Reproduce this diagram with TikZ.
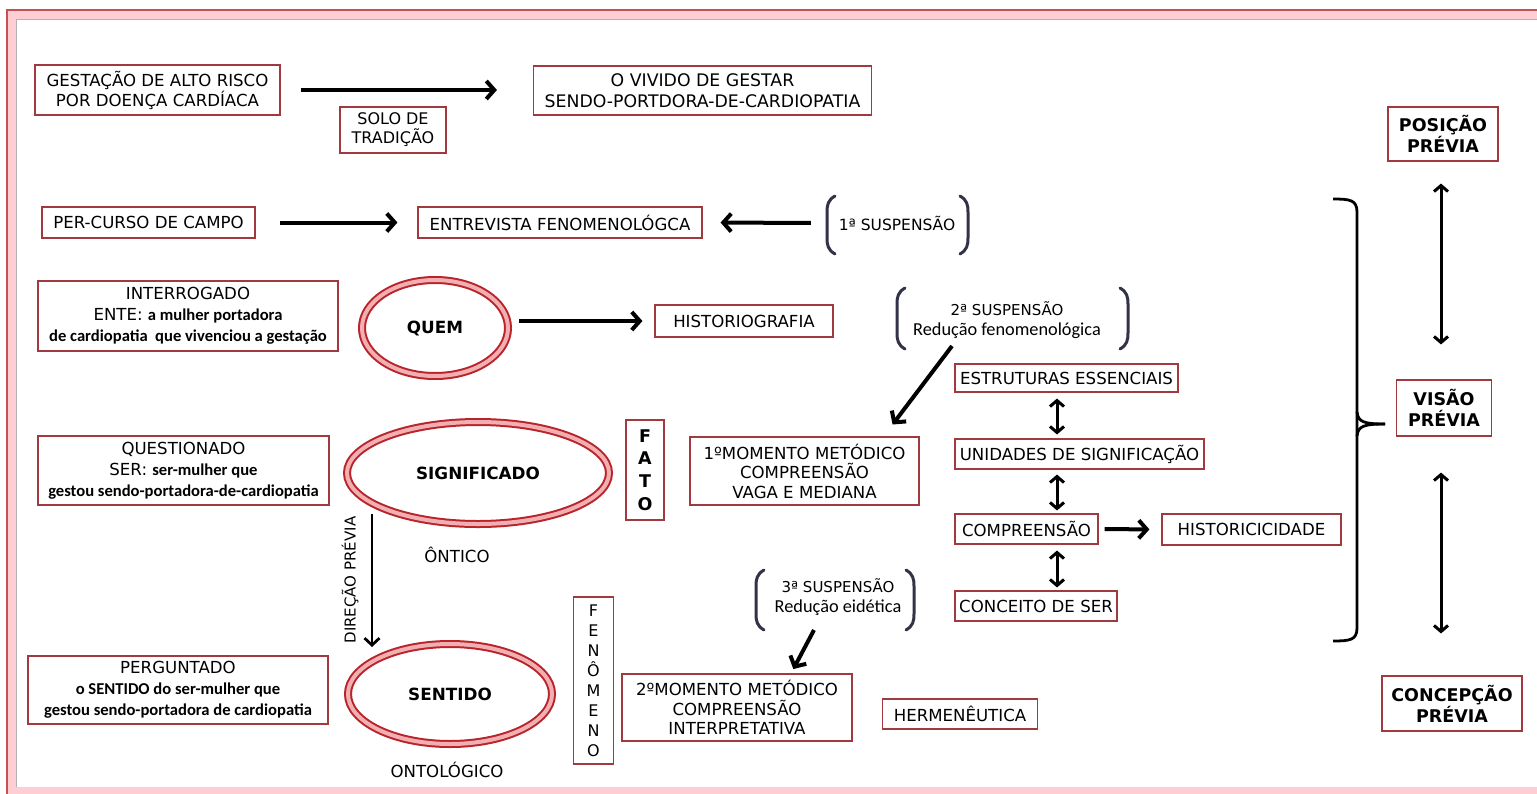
\documentclass[tikz,border=0pt]{standalone}
\usepackage{fontspec}
\setmainfont{DejaVu Sans}
\newfontfamily\calib{Carlito}
\usetikzlibrary{arrows.meta,shapes.geometric,calc}
\definecolor{boxred}{RGB}{160,58,62}
\definecolor{ringdark}{RGB}{185,35,42}
\definecolor{ringpink}{RGB}{242,175,178}
\definecolor{brkcol}{RGB}{50,50,72}
\definecolor{framepink}{RGB}{255,205,212}
\definecolor{framered}{RGB}{200,80,80}
\tikzset{
  box/.style={draw=boxred, line width=1.1pt, fill=white, inner sep=2pt, align=center, font=\fontsize{16.6}{20}\selectfont},
  ring/.style={ellipse, draw=ringdark, line width=2pt, double=ringpink, double distance=4pt, font=\bfseries\fontsize{16.8}{18}\selectfont},
  arr/.style={line width=4pt, -{Straight Barb[length=8pt,width=18pt]}},
  darr/.style={line width=3pt, {Straight Barb[length=6pt,width=14pt]}-{Straight Barb[length=6pt,width=14pt]}},
  brk/.style={draw=brkcol, line width=3pt, line cap=round},
  plain/.style={font=\fontsize{16.6}{20}\selectfont, align=center},
  low/.style={},
}
\newcommand{\lowb}{\calib\bfseries\fontsize{16.6}{21}\selectfont}
\begin{document}
\begin{tikzpicture}[x=1pt,y=-1pt]
\useasboundingbox (0,0) rectangle (1537,793);
% frame
\fill[framepink] (7,10) rectangle (1560,800);
\fill[white] (16,19) rectangle (1560,787);
\draw[framered, line width=1.2pt] (7,800) -- (7,10) -- (1560,10);
\draw[gray!60, line width=0.8pt] (16,787) -- (16,19) -- (1560,19);

% row 1
\node[box, minimum width=245, minimum height=50] (gest) at (157.5,90) {GESTAÇÃO DE ALTO RISCO\\POR DOENÇA CARDÍACA};
\node[box, minimum width=106, minimum height=46, font=\fontsize{16}{19}\selectfont] (solo) at (393,130) {SOLO DE\\TRADIÇÃO};
\node[box, minimum width=338, minimum height=49, font=\fontsize{17.3}{20.5}\selectfont] (vivido) at (702.5,90.5) {O VIVIDO DE GESTAR\\SENDO-PORTDORA-DE-CARDIOPATIA};
\draw[arr, shorten <=20pt, shorten >=36pt] (gest.east) -- (vivido.west |- gest.east);

% row 2
\node[box, minimum width=213, minimum height=31] (percurso) at (148.5,222.5) {PER-CURSO DE CAMPO};
\node[box, minimum width=284, minimum height=31] (entrevista) at (560,222.5) {ENTREVISTA FENOMENOLÓGCA};
\node[plain, font=\fontsize{15.5}{18}\selectfont, minimum width=140] (s1) at (897,223) {1ª SUSPENSÃO};
\draw[arr, shorten <=24pt, shorten >=20pt] (percurso.east) -- (entrevista.west);
\draw[arr, shorten <=16pt, shorten >=18pt] (s1.west) -- (entrevista.east);
\draw[brk] (835,196) .. controls (828,200) and (827,205) .. (827,212) -- (827,238) .. controls (827,245) and (828,250) .. (835,254);
\draw[brk] (960,196) .. controls (967,200) and (968,205) .. (968,212) -- (968,238) .. controls (968,245) and (967,250) .. (960,254);

% row 3
\node[box, minimum width=300, minimum height=70, font=\fontsize{16.6}{21}\selectfont] (interrogado) at (188,316)
  {INTERROGADO\\ENTE: {\lowb a mulher portadora}\\{\lowb de cardiopatia\ \ que vivenciou a gestação}};
\node[ring, minimum width=146, minimum height=96] (quem) at (435,328) {QUEM};
\node[box, minimum width=178, minimum height=32] (historio) at (744,321) {HISTORIOGRAFIA};
\draw[arr, shorten <=10pt, shorten >=12pt] (quem.east |- historio.west) -- (historio.west);
\node[plain, minimum width=226] (s2) at (1007,320) {{\fontsize{15}{18}\selectfont 2ª SUSPENSÃO}\\{\calib\fontsize{18.3}{19}\selectfont Redução fenomenológica}};
\draw[brk] (905,288) .. controls (898,292) and (897,297) .. (897,304) -- (897,333) .. controls (897,340) and (898,345) .. (905,349);
\draw[brk] (1120,288) .. controls (1127,292) and (1128,297) .. (1128,304) -- (1128,333) .. controls (1128,340) and (1127,345) .. (1120,349);

% right column of middle
\node[box, minimum width=223, minimum height=28] (estr) at (1066.5,378) {ESTRUTURAS ESSENCIAIS};
\node[box, minimum width=249, minimum height=30] (unid) at (1079.5,454) {UNIDADES DE SIGNIFICAÇÃO};
\node[box, minimum width=143, minimum height=30] (comp) at (1026.5,529) {COMPREENSÃO};
\node[box, minimum width=179, minimum height=31] (histc) at (1251.5,529.5) {HISTORICICIDADE};
\node[box, minimum width=162, minimum height=30] (conc) at (1036,606) {CONCEITO DE SER};
\draw[darr, shorten <=6pt, shorten >=4pt] ($(estr.south)+(-9.5,0)$) -- ($(unid.north)+(-22.5,0)$);
\draw[darr, shorten <=5pt, shorten >=3pt] ($(unid.south)+(-22.5,0)$) -- ($(comp.north)+(30.5,0)$);
\draw[darr, shorten <=6pt, shorten >=3pt] ($(comp.south)+(30.5,0)$) -- ($(conc.north)+(21,0)$);
\draw[arr, shorten <=6pt, shorten >=12pt] (comp.east) -- (histc.west);

% row 4
\node[box, minimum width=291, minimum height=69, font=\fontsize{16.6}{21}\selectfont] (quest) at (183.5,470.5)
  {QUESTIONADO\\SER: {\lowb ser-mulher que}\\{\lowb gestou sendo-portadora-de-cardiopatia}};
\node[ring, minimum width=262, minimum height=102] (sig) at (478,473) {SIGNIFICADO};
\node[box, minimum width=38, minimum height=100, font=\bfseries\fontsize{17.5}{22.7}\selectfont] (fato) at (645,470) {F\\A\\T\\O};
\node[box, minimum width=229, minimum height=68, font=\fontsize{16.6}{19.5}\selectfont] (m1) at (804.5,471) {1ºMOMENTO METÓDICO\\COMPREENSÃO\\VAGA E MEDIANA};
\coordinate (s2a) at (952,346);
\draw[arr, shorten >=15pt] (s2a) -- ($(m1.north)+(79,0)$);
\node[plain] (ontico) at (457,555) {ÔNTICO};

% direcao
\coordinate (d1) at (372,514);
\coordinate (d2) at (372,647);
\draw[line width=2.8pt, -{Straight Barb[length=7pt,width=15pt]}] (d1) -- (d2);
\node[plain, rotate=90, font=\fontsize{15}{18}\selectfont] (direcao) at (350,580) {DIREÇÃO PRÉVIA};

% row 5
\node[plain, minimum width=150] (s3) at (838,597) {{\fontsize{15}{18}\selectfont 3ª SUSPENSÃO}\\{\calib\fontsize{18.3}{19}\selectfont Redução eidética}};
\draw[brk] (764,570) .. controls (757,574) and (756,579) .. (756,586) -- (756,614) .. controls (756,621) and (757,626) .. (764,630);
\draw[brk] (906,570) .. controls (913,574) and (914,579) .. (914,586) -- (914,614) .. controls (914,621) and (913,626) .. (906,630);
\node[box, minimum width=40, minimum height=167, font=\fontsize{16}{20}\selectfont] (fen) at (593.5,680.5) {F\\E\\N\\Ô\\M\\E\\N\\O};
\node[box, minimum width=300, minimum height=68, font=\fontsize{16.6}{21}\selectfont] (perg) at (178,690)
  {PERGUNTADO\\{\lowb o SENTIDO do ser-mulher que}\\{\lowb gestou sendo-portadora de cardiopatia}};
\node[ring, minimum width=204, minimum height=100] (sent) at (450,694) {SENTIDO};
\node[plain] (onto) at (447,770) {ONTOLÓGICO};
\node[box, minimum width=230, minimum height=67, font=\fontsize{16.6}{19.5}\selectfont] (m2) at (737,707.5) {2ºMOMENTO METÓDICO\\COMPREENSÃO\\INTERPRETATIVA};
\coordinate (s3a) at (814,630);
\draw[arr, shorten >=5pt] (s3a) -- ($(m2.north)+(54,0)$);
\node[box, minimum width=155, minimum height=30] (herm) at (960,714) {HERMENÊUTICA};

% big bracket
\draw[line width=2.8pt] (1333,199) .. controls (1350,199) and (1357,200) .. (1357,212) -- (1357,628) .. controls (1357,640) and (1350,641) .. (1333,641);
\draw[line width=2.8pt] (1357,412) .. controls (1358,422) and (1364,424) .. (1385,424);
\draw[line width=2.8pt] (1357,436) .. controls (1358,426) and (1364,424) .. (1385,424);

% right column
\node[box, minimum width=110, minimum height=54, font=\bfseries\fontsize{17.5}{21}\selectfont] (pos) at (1443,134) {POSIÇÃO\\PRÉVIA};
\node[box, minimum width=95, minimum height=56, font=\bfseries\fontsize{17.5}{21}\selectfont] (vis) at (1444,408) {VISÃO\\PRÉVIA};
\node[box, minimum width=140, minimum height=55, font=\bfseries\fontsize{17.5}{21}\selectfont] (concp) at (1452,703.5) {CONCEPÇÃO\\PRÉVIA};
\draw[darr, shorten <=22pt, shorten >=35pt] ($(pos.south)+(-2,0)$) -- ($(vis.north)+(-3,0)$);
\draw[darr, shorten <=36pt, shorten >=42pt] ($(vis.south)+(-3,0)$) -- ($(concp.north)+(-11,0)$);
\end{tikzpicture}
\end{document}
